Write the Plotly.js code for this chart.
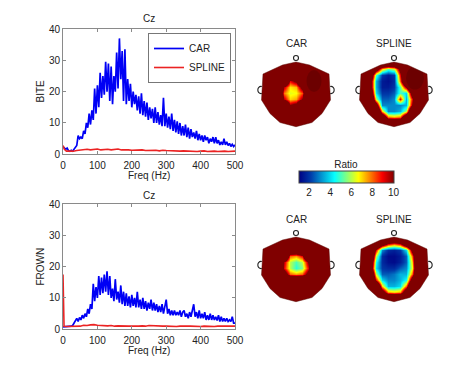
<!DOCTYPE html>
<html><head><meta charset="utf-8">
<script src="https://cdn.plot.ly/plotly-3.0.1.min.js"></script>
<style>html,body{margin:0;padding:0;background:#fff}#plot{width:474px;height:369px}</style>
</head><body><div id="plot"></div>
<script>
// ---------- line-chart data ----------
const freqCar = [0,4,8,12,16,20,24,28,32,36,40,44,48,52,56,60,64,68,72,76,80,84,88,92,96,100,104,108,112,116,120,124,128,132,136,140,144,148,152,156,160,164,168,172,176,180,184,188,192,196,200,204,208,212,216,220,224,228,232,236,240,244,248,252,256,260,264,268,272,276,280,284,288,292,296,300,304,308,312,316,320,324,328,332,336,340,344,348,352,356,360,364,368,372,376,380,384,388,392,396,400,404,408,412,416,420,424,428,432,436,440,444,448,452,456,460,464,468,472,476,480,484,488,492,496,500];
const biteCar = [2.5,2.0,1.6,2.0,1.2,1.0,1.3,1.0,1.5,2.0,2.8,6.0,5.0,5.5,5.0,7.5,6.5,10.0,8.5,13.0,9.5,14.0,11.0,21.0,13.0,22.0,15.0,26.0,18.0,25.0,19.0,29.5,20.0,29.0,17.0,28.0,16.0,25.0,20.0,32.5,21.0,37.0,24.0,33.0,17.0,33.5,16.0,24.0,17.0,22.5,15.0,20.0,16.0,19.0,14.0,18.5,13.0,19.5,12.5,17.0,12.0,16.5,11.0,15.0,11.5,14.5,10.0,15.0,10.0,13.5,9.5,12.5,9.0,18.0,9.0,13.0,8.5,12.0,8.0,13.0,7.5,11.0,7.0,10.5,6.5,10.0,6.0,9.0,6.0,9.5,5.5,8.5,5.0,8.0,5.5,7.0,5.0,7.5,4.5,6.5,4.5,6.0,4.0,6.0,4.5,5.5,3.5,5.0,4.0,5.5,3.5,5.5,3.5,4.5,3.0,4.0,3.0,5.0,3.0,4.0,2.8,3.5,2.5,3.2,2.5,3.0];
const frownCar = [0.8,0.8,0.9,0.8,0.9,0.8,1.0,1.2,2.0,2.5,3.5,2.5,3.8,3.0,4.5,3.5,5.0,4.0,6.5,5.0,8.0,6.5,14.5,9.0,13.5,10.0,17.0,11.0,16.5,11.5,17.5,12.0,18.5,11.0,17.0,10.0,13.0,9.0,16.0,9.5,12.0,8.5,14.0,8.0,12.0,7.5,11.5,7.5,10.5,7.0,11.0,7.5,10.0,7.0,12.0,7.0,9.5,6.5,10.0,6.5,9.0,6.0,8.5,6.5,9.5,6.0,8.5,6.0,8.0,5.5,7.5,5.5,8.0,5.0,7.0,9.5,5.0,6.5,4.5,6.0,4.5,6.0,4.5,5.5,4.5,6.0,4.0,5.5,6.0,4.0,5.0,3.5,5.5,4.0,6.0,8.0,4.0,5.5,3.5,6.0,3.5,5.0,3.5,5.5,3.0,4.5,3.0,5.0,3.0,4.5,3.0,4.0,2.8,4.5,2.5,4.0,2.5,3.5,2.5,3.5,2.5,3.0,2.5,4.0,2.0,2.0];
const freqSplineBite = [0,4,10,20,30,40,50,60,70,80,90,100,110,120,130,140,150,160,170,180,190,200,210,220,230,240,250,260,270,280,290,300,310,320,330,340,350,360,370,380,390,400,410,420,430,440,450,460,470,480,490,500];
const biteSpline = [2.8,1.6,1.0,0.9,1.0,1.2,1.3,1.5,1.6,1.4,1.5,1.7,1.4,1.5,1.6,1.4,1.5,1.7,1.4,1.5,1.4,1.3,1.4,1.3,1.4,1.2,1.3,1.2,1.3,1.1,1.3,1.2,1.1,1.2,1.1,1.0,1.1,1.0,1.1,1.0,0.9,1.0,1.1,0.9,1.0,1.0,0.9,1.0,1.0,0.9,1.0,1.0];
const freqSplineFrown = [0,3,10,20,30,40,50,60,70,80,90,100,110,120,130,140,150,160,170,180,190,200,210,220,230,240,250,260,270,280,290,300,310,320,330,340,350,360,370,380,390,400,410,420,430,440,450,460,470,480,490,500];
const frownSpline = [17.5,1.0,0.9,0.9,1.0,1.1,1.0,1.3,1.2,1.4,1.5,1.3,1.2,1.3,1.1,1.2,1.0,1.1,1.0,1.1,1.0,1.0,0.9,1.0,1.1,1.0,1.2,1.1,1.2,1.1,1.0,1.0,0.9,1.0,0.9,1.0,0.9,1.0,1.0,0.9,1.0,0.9,1.0,0.9,1.0,0.9,1.0,0.9,1.0,1.0,0.9,1.0];
const xTicks = [0,100,200,300,400,500];
const yTicks = [0,10,20,30,40];
const seriesNames = ['CAR','SPLINE'];

// ---------- topography data (ratio, values above 10 saturate), rows listed top -> bottom ----------
const gridX = [-36,-30,-24,-18,-12,-6,0,6,12,18,24,30,36];
const gridY = [36,30,24,18,12,6,0,-6,-12,-18,-24,-30,-36];
const biteCarMap = [
 [16,16,16,16,16,16,16,16,16,16,16,16,16],
 [16,16,16,16,16,16,16,16,16,16,16,16,16],
 [16,16,16,16,16,16,16,16,16,16,16,16,16],
 [16,16,16,16,16,16,16,16,16,16,16,16,16],
 [16,16,16,16,16,9,10.5,16,16,16,16,16,16],
 [16,16,16,16,9.5,6.8,7.2,11,16,16,16,16,16],
 [16,16,16,16,7.8,6.4,6.6,8.2,16,16,16,16,16],
 [16,16,16,16,9.5,7,7.4,10,16,16,16,16,16],
 [16,16,16,16,16,10,11,16,16,16,16,16,16],
 [16,16,16,16,16,16,16,16,16,16,16,16,16],
 [16,16,16,16,16,16,16,16,16,16,16,16,16],
 [16,16,16,16,16,16,16,16,16,16,16,16,16],
 [16,16,16,16,16,16,16,16,16,16,16,16,16]];
const biteSplineMap = [
 [16,16,16,16,16,16,16,16,16,16,16,16,16],
 [16,16,16,16,16,16,16,16,16,16,16,16,16],
 [16,16,16,12,7,5,6,11,16,16,16,16,16],
 [16,16,14,5,2,1.5,2,9,16,16,16,16,16],
 [16,16,12,3.5,1.5,1.3,1.8,8,16,16,16,16,16],
 [16,16,12,3.5,1.5,1.5,2,5,10,16,16,16,16],
 [16,16,14,4,2,2,2.5,5,4,12,16,16,16],
 [16,16,16,6,2.5,2.5,3,9,3.5,9,16,16,16],
 [16,16,16,12,3,3,3,3,3.5,10,16,16,16],
 [16,16,16,16,7,3,3,3.5,6,16,16,16,16],
 [16,16,16,16,14,8,7.5,8,14,16,16,16,16],
 [16,16,16,16,16,16,16,16,16,16,16,16,16],
 [16,16,16,16,16,16,16,16,16,16,16,16,16]];
const frownCarMap = [
 [16,16,16,16,16,16,16,16,16,16,16,16,16],
 [16,16,16,16,16,16,16,16,16,16,16,16,16],
 [16,16,16,16,16,16,16,16,16,16,16,16,16],
 [16,16,16,16,16,14,14,16,16,16,16,16,16],
 [16,16,16,16,16,8,7.5,9,16,16,16,16,16],
 [16,16,16,16,9.5,6,5,6,10,16,16,16,16],
 [16,16,16,16,9,6,4.7,5.5,9,16,16,16,16],
 [16,16,16,16,12,8,7.5,8,11,16,16,16,16],
 [16,16,16,16,16,16,16,16,16,16,16,16,16],
 [16,16,16,16,16,16,16,16,16,16,16,16,16],
 [16,16,16,16,16,16,16,16,16,16,16,16,16],
 [16,16,16,16,16,16,16,16,16,16,16,16,16],
 [16,16,16,16,16,16,16,16,16,16,16,16,16]];
const frownSplineMap = [
 [16,16,16,16,16,16,16,16,16,16,16,16,16],
 [16,16,16,16,16,16,16,16,16,16,16,16,16],
 [16,16,16,16,12,9,8,9,13,16,16,16,16],
 [16,16,16,9,3,1.8,1.6,2,4,11,16,16,16],
 [16,16,16,6,1.8,1.2,1.2,1.5,2.5,8,16,16,16],
 [16,16,14,4.5,1.8,1.3,1.2,1.6,2.5,7,16,16,16],
 [16,16,13,4,2,1.8,1.8,2.5,3,6.5,16,16,16],
 [16,16,16,6,2.5,2.5,2.8,3.5,3.5,8,16,16,16],
 [16,16,16,9,4,3,3,3.5,4.5,12,16,16,16],
 [16,16,16,16,7,3.5,3.5,4,8,16,16,16,16],
 [16,16,16,16,12,7.5,7,7.5,13,16,16,16,16],
 [16,16,16,16,16,16,16,16,16,16,16,16,16],
 [16,16,16,16,16,16,16,16,16,16,16,16,16]];
const colorTicks = [2,4,6,8,10];

// head outline (px relative to head centre, y up)
const headX = [0,13.5,33,34.5,26,16,0,-16,-26,-34.5,-33,-13.5];
const headY = [31,28,19,-7,-20.5,-29.5,-33.7,-29.5,-20.5,-7,19,28];

const jet = [[0,'rgb(0,0,131)'],[0.125,'rgb(0,60,170)'],[0.375,'rgb(5,255,255)'],[0.625,'rgb(255,255,0)'],[0.875,'rgb(250,0,0)'],[1,'rgb(128,0,0)']];
const FONT = 'Liberation Sans, Arial, sans-serif';
const FS = 10;
const BLUE = 'rgb(0,0,245)', RED = 'rgb(235,35,35)';

const traces = [
 {x:freqCar, y:biteCar, type:'scatter', mode:'lines', name:seriesNames[0], line:{color:BLUE,width:1.7}, xaxis:'x', yaxis:'y'},
 {x:freqSplineBite, y:biteSpline, type:'scatter', mode:'lines', name:seriesNames[1], line:{color:RED,width:1.6}, xaxis:'x', yaxis:'y'},
 {x:freqCar, y:frownCar, type:'scatter', mode:'lines', showlegend:false, line:{color:BLUE,width:1.7}, xaxis:'x2', yaxis:'y2'},
 {x:freqSplineFrown, y:frownSpline, type:'scatter', mode:'lines', showlegend:false, line:{color:RED,width:1.6}, xaxis:'x2', yaxis:'y2'}
];
const maps = [biteCarMap, biteSplineMap, frownCarMap, frownSplineMap];
maps.forEach((m,i)=>{
  const tr = {type:'heatmap', x:gridX, y:gridY.slice().reverse(), z:m.slice().reverse(),
    colorscale:jet, zmin:1, zmax:10, zsmooth:'best', showscale:false, hoverinfo:'skip',
    xaxis:'x'+(i+3), yaxis:'y'+(i+3)};
  if(i===0){
    tr.showscale = true;
    tr.colorbar = {orientation:'h', x:346/474, xanchor:'center', y:1-160/369, yanchor:'top',
      len:95, lenmode:'pixels', thickness:12, thicknessmode:'pixels', xpad:0, ypad:0,
      outlinewidth:1, outlinecolor:'#444', tickvals:colorTicks, ticks:'',
      tickfont:{size:FS,color:'#222',family:FONT},
      title:{text:'Ratio', side:'top', font:{size:FS,color:'#222',family:FONT}}};
  }
  traces.push(tr);
});

const lineAxis = (dom, anchor, extra) => Object.assign({domain:dom, anchor:anchor, showline:true, mirror:'ticks',
  linecolor:'#8a8a8a', linewidth:1, ticks:'inside', ticklen:3, tickcolor:'#8a8a8a', showgrid:false, zeroline:false,
  tickfont:{size:FS,color:'#222',family:FONT}, fixedrange:true}, extra);

const headAxis = (dom) => ({domain:dom, range:[-45,45], visible:false, fixedrange:true});
const cx = [296,394,296,394], cy = [93,93,268,268];

const layout = {
  width:474, height:369, margin:{l:0,r:0,t:0,b:0}, paper_bgcolor:'#fff', plot_bgcolor:'#fff',
  font:{family:FONT, size:FS, color:'#222'},
  showlegend:true,
  legend:{x:231/474, xanchor:'right', y:1-33/369, yanchor:'top', bgcolor:'#fff', bordercolor:'#777', borderwidth:1,
    font:{size:FS,color:'#222',family:FONT}, tracegroupgap:0, itemwidth:30},
  xaxis: lineAxis([63/474,235/474],'y',{range:[0,500], tickvals:xTicks, ticklabelstandoff:2}),
  yaxis: lineAxis([1-154.3/369,1-29/369],'x',{range:[0,40], tickvals:yTicks}),
  xaxis2: lineAxis([63/474,235/474],'y2',{range:[0,500], tickvals:xTicks, ticklabelstandoff:2}),
  yaxis2: lineAxis([1-329.3/369,1-204/369],'x2',{range:[0,40], tickvals:yTicks}),
  annotations:[], shapes:[]
};
for(let i=0;i<4;i++){
  layout['xaxis'+(i+3)] = Object.assign(headAxis([(cx[i]-45)/474,(cx[i]+45)/474]), {anchor:'y'+(i+3)});
  layout['yaxis'+(i+3)] = Object.assign(headAxis([1-(cy[i]+45)/369,1-(cy[i]-45)/369]), {anchor:'x'+(i+3)});
}
const ann = (text,x,y,extra)=>Object.assign({text:text, x:x/474, y:1-y/369, xref:'paper', yref:'paper', showarrow:false,
  xanchor:'center', yanchor:'middle', font:{size:FS,color:'#222',family:FONT}}, extra||{});
layout.annotations.push(ann('Cz',149,19), ann('Cz',149,195), ann('Freq (Hz)',149,175), ann('Freq (Hz)',149,350),
  ann('BITE',40,91.5,{textangle:-90}), ann('FROWN',40,266.5,{textangle:-90}),
  ann('CAR',296,44), ann('SPLINE',394,44), ann('CAR',296,219), ann('SPLINE',394,219));

// head masks, outline, nose, ears
let poly = 'M' + headX.map((v,k)=>v+','+headY[k]).join(' L') + ' Z';
for(let i=0;i<4;i++){
  const xr='x'+(i+3), yr='y'+(i+3);
  if(i<2){
    const dark = i===0 ? [18,12,7.5,11] : [21,15,9,11.5];
    layout.shapes.push({type:'circle', xref:xr, yref:yr, x0:dark[0]-dark[2], x1:dark[0]+dark[2], y0:dark[1]-dark[3], y1:dark[1]+dark[3],
      fillcolor:'rgba(30,0,0,0.2)', line:{width:0}});
  }
  layout.shapes.push({type:'path', xref:xr, yref:yr, path:'M-45,-45 L45,-45 L45,45 L-45,45 Z ' + poly,
    fillcolor:'#fff', fillrule:'evenodd', line:{width:0}});
  layout.shapes.push({type:'path', xref:xr, yref:yr, path:poly, line:{color:'rgba(90,10,5,0.8)', width:0.6}});
  layout.shapes.push({type:'circle', xref:xr, yref:yr, x0:-2.5, x1:2.5, y0:32.5, y1:37.5, line:{color:'#222',width:1.1}, fillcolor:'rgba(0,0,0,0)'});
  layout.shapes.push({type:'path', xref:xr, yref:yr, path:'M-34.2,6.5 C-39.5,7.5 -39.5,-1.5 -34.2,-0.5', line:{color:'#222',width:1.1}});
  layout.shapes.push({type:'path', xref:xr, yref:yr, path:'M34.2,6.5 C39.5,7.5 39.5,-1.5 34.2,-0.5', line:{color:'#222',width:1.1}});
}

Plotly.newPlot('plot', traces, layout, {staticPlot:true, displayModeBar:false});
</script></body></html>
